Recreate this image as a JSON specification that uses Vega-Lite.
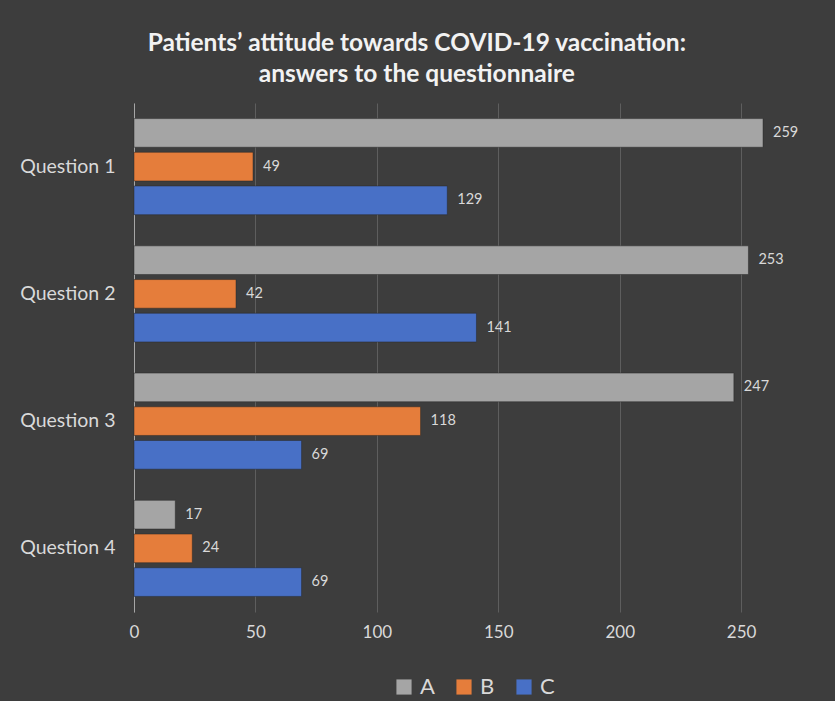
{
  "$schema": "https://vega.github.io/schema/vega-lite/v6.json",
  "autosize": {"type": "none"},
  "width": 680,
  "height": 509,
  "padding": {"top": 103, "left": 134, "right": 21, "bottom": 89},
  "background": "#3d3d3d",
  "title": {
    "text": ["Patients’ attitude towards COVID-19 vaccination:", "answers to the questionnaire"],
    "font": "Lato",
    "fontSize": 24.5,
    "fontWeight": "bold",
    "color": "#f2f2f2",
    "lineHeight": 31,
    "anchor": "middle",
    "frame": "bounds",
    "offset": 16
  },
  "data": {
    "values": [
      {"question": "Question 1", "answer": "A", "value": 259},
      {"question": "Question 1", "answer": "B", "value": 49},
      {"question": "Question 1", "answer": "C", "value": 129},
      {"question": "Question 2", "answer": "A", "value": 253},
      {"question": "Question 2", "answer": "B", "value": 42},
      {"question": "Question 2", "answer": "C", "value": 141},
      {"question": "Question 3", "answer": "A", "value": 247},
      {"question": "Question 3", "answer": "B", "value": 118},
      {"question": "Question 3", "answer": "C", "value": 69},
      {"question": "Question 4", "answer": "A", "value": 17},
      {"question": "Question 4", "answer": "B", "value": 24},
      {"question": "Question 4", "answer": "C", "value": 69}
    ]
  },
  "encoding": {
    "y": {
      "field": "question",
      "type": "nominal",
      "title": null,
      "scale": {"paddingInner": 0.245, "paddingOuter": 0.1225},
      "axis": {
        "domain": true,
        "domainColor": "#a6a6a6",
        "domainWidth": 1,
        "ticks": false,
        "labelFont": "Lato",
        "labelFontSize": 19.5,
        "labelColor": "#d9d9d9",
        "labelPadding": 19,
        "grid": false
      }
    },
    "yOffset": {
      "field": "answer",
      "type": "nominal",
      "scale": {"paddingInner": 0.15, "paddingOuter": 0}
    },
    "x": {
      "field": "value",
      "type": "quantitative",
      "title": null,
      "scale": {"domain": [0, 280], "nice": false},
      "axis": {
        "values": [0, 50, 100, 150, 200, 250],
        "domain": false,
        "ticks": false,
        "grid": true,
        "gridColor": "#5e5e5e",
        "gridWidth": 1,
        "labelFont": "Lato",
        "labelFontSize": 17,
        "labelColor": "#d9d9d9",
        "labelPadding": 12,
        "labelFlush": false
      }
    }
  },
  "layer": [
    {
      "mark": {"type": "bar", "stroke": "#262626", "strokeWidth": 0.8, "strokeOpacity": 0.6},
      "encoding": {
        "color": {
          "field": "answer",
          "type": "nominal",
          "title": null,
          "scale": {"domain": ["A", "B", "C"], "range": ["#a5a5a5", "#e57d3b", "#4870c6"]},
          "legend": {
            "orient": "bottom",
            "direction": "horizontal",
            "symbolType": "square",
            "symbolSize": 230,
            "symbolStrokeWidth": 0,
            "labelFont": "Lato",
            "labelFontSize": 22,
            "labelColor": "#d9d9d9",
            "columnPadding": 18,
            "labelOffset": 5,
            "offset": 36
          }
        }
      }
    },
    {
      "mark": {"type": "text", "align": "left", "baseline": "middle", "dx": 10, "font": "Lato", "fontSize": 14.5, "color": "#d9d9d9"},
      "encoding": {
        "text": {"field": "value", "type": "quantitative"}
      }
    }
  ],
  "config": {
    "view": {"stroke": null},
    "legend": {"layout": {"bottom": {"anchor": "middle"}}}
  }
}
